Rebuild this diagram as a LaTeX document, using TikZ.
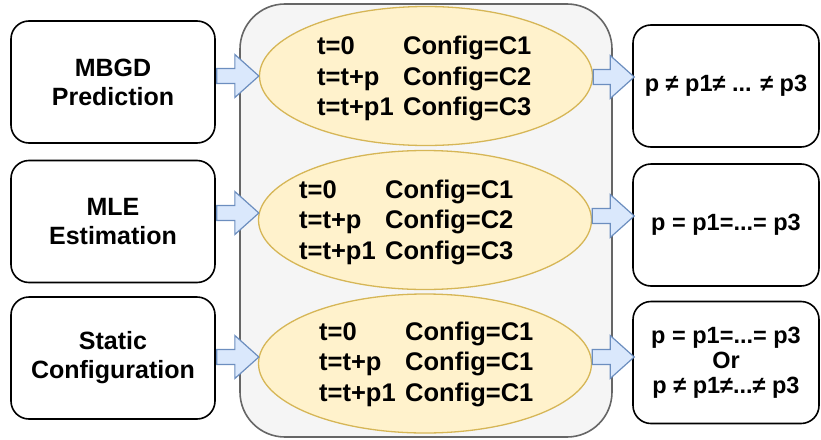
\documentclass[tikz,border=0pt]{standalone}
\usepackage{fontspec}
\setmainfont{Liberation Sans}
\usetikzlibrary{calc,shapes.geometric}

\definecolor{panelfill}{HTML}{F5F5F5}
\definecolor{panelline}{HTML}{666666}
\definecolor{ovalfill}{HTML}{FFF2CC}
\definecolor{ovalline}{HTML}{D6B656}
\definecolor{arrowfill}{HTML}{DAE8FC}
\definecolor{arrowline}{HTML}{6C8EBF}

% fixed-width first column inside the schedule ovals
\newcommand\tcol[1]{\makebox[86pt][l]{#1}}
% wide block arrow from point #1 to tip #2 (horizontal)
\newcommand\blockarrow[2]{%
  \draw[blockarrow] ($(#1)+(0,-7.5)$) -- ($(#2)+(-24,-7.5)$) -- ($(#2)+(-24,-21.5)$)
    -- (#2) -- ($(#2)+(-24,21.5)$) -- ($(#2)+(-24,7.5)$) -- ($(#1)+(0,7.5)$) -- cycle;}

\begin{document}
\begin{tikzpicture}[x=1pt,y=-1pt,
  sidebox/.style={draw=black, line width=1.6pt, fill=white, rounded corners=18pt,
    minimum width=204pt, minimum height=122pt, align=center, inner sep=0pt,
    font=\fontsize{25}{29}\selectfont\bfseries},
  resultbox/.style={sidebox, minimum width=186pt, minimum height=122pt,
    font=\fontsize{23.5}{25}\selectfont\bfseries},
  panel/.style={draw=panelline, line width=1.6pt, fill=panelfill, rounded corners=45pt,
    minimum width=372pt, minimum height=433pt},
  oval/.style={ellipse, draw=ovalline, line width=1.3pt, fill=ovalfill,
    minimum width=333pt, minimum height=139pt, inner sep=0pt},
  schedule/.style={anchor=west, align=left, inner sep=0pt,
    font=\fontsize{25.5}{30.5}\selectfont\bfseries},
  blockarrow/.style={draw=arrowline, line width=1.2pt, fill=arrowfill, line join=miter}
]
\useasboundingbox (0,0) rectangle (821,439);

% central panel with the three schedules
\node[panel] (C) at (426,220.5) {};
\node[oval] (E1) at (426,76) {};
\node[oval] (E2) at (425,220) {};
\node[oval] (E3) at (425,363.5) {};

\node[schedule] (E1t) at (317,78.5)
  {\tcol{t=0}Config=C1\\\tcol{t=t+p}Config=C2\\\tcol{t=t+p1}Config=C3};
\node[schedule] (E2t) at (299,222)
  {\tcol{t=0}Config=C1\\\tcol{t=t+p}Config=C2\\\tcol{t=t+p1}Config=C3};
\node[schedule] (E3t) at (319,364)
  {\tcol{t=0}Config=C1\\\tcol{t=t+p}Config=C1\\\tcol{t=t+p1}Config=C1};

% input methods
\node[sidebox] (L1) at (113,82) {MBGD\\Prediction};
\node[sidebox] (L2) at (113,221.5) {MLE\\Estimation};
\node[sidebox] (L3) at (113,358) {Static\\Configuration};

% resulting periods
\node[resultbox] (R1) at (726,86) {p ≠ p1≠ ... ≠ p3};
\node[resultbox] (R2) at (726,225) {p = p1=...= p3};
\node[resultbox] (R3) at (726,362.5) {p = p1=...= p3\\Or\\p ≠ p1≠...≠ p3};

% arrow end points
\coordinate (a1s) at ($(L1.east)+(1,-6)$);
\coordinate (a1e) at (E1.west);
\coordinate (a2s) at ($(L2.east)+(1,-8.5)$);
\coordinate (a2e) at ($(E2.west)+(1,-7)$);
\coordinate (a3s) at ($(L3.east)+(1,-1)$);
\coordinate (a3e) at ($(E3.west)+(1,-6.5)$);
\coordinate (b1s) at ($(E1.east)+(0,1)$);
\coordinate (b1e) at ($(R1.west)+(2,-9)$);
\coordinate (b2s) at ($(E2.east)+(0,-4)$);
\coordinate (b2e) at ($(R2.west)+(2,-9)$);
\coordinate (b3s) at ($(E3.east)+(0,-6.5)$);
\coordinate (b3e) at ($(R3.west)+(2,-5.5)$);

\blockarrow{a1s}{a1e}
\blockarrow{a2s}{a2e}
\blockarrow{a3s}{a3e}
\blockarrow{b1s}{b1e}
\blockarrow{b2s}{b2e}
\blockarrow{b3s}{b3e}
\end{tikzpicture}
\end{document}
